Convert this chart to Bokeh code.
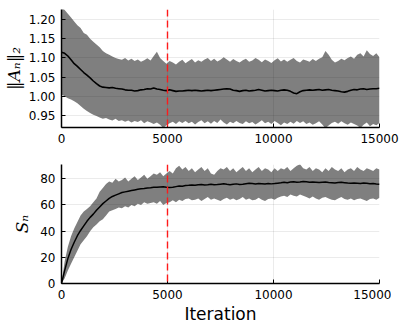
from bokeh.plotting import figure
from bokeh.layouts import column
from bokeh.models import FixedTicker, NumeralTickFormatter, Span, Range1d
from bokeh.embed import file_html
from bokeh.resources import INLINE

iterations = list(range(0, 15001, 150))

norm_mean = [
    1.115, 1.112, 1.105, 1.095, 1.085, 1.078, 1.070, 1.062, 1.055, 1.048,
    1.040, 1.033, 1.027, 1.024, 1.023, 1.022, 1.023, 1.021, 1.020, 1.019,
    1.017, 1.016, 1.016, 1.014, 1.015, 1.017, 1.018, 1.020, 1.019, 1.022,
    1.019, 1.018, 1.016, 1.015, 1.017, 1.015, 1.013, 1.014, 1.014, 1.015,
    1.016, 1.015, 1.016, 1.015, 1.014, 1.015, 1.016, 1.015, 1.016, 1.017,
    1.018, 1.019, 1.020, 1.019, 1.016, 1.015, 1.013, 1.015, 1.016, 1.014,
    1.015, 1.016, 1.018, 1.016, 1.014, 1.015, 1.016, 1.015, 1.014, 1.016,
    1.017, 1.016, 1.013, 1.009, 1.007, 1.012, 1.015, 1.016, 1.017, 1.016,
    1.017, 1.018, 1.016, 1.017, 1.018, 1.016, 1.015, 1.014, 1.012, 1.011,
    1.013, 1.016, 1.018, 1.017, 1.019, 1.020, 1.018, 1.019, 1.020, 1.020,
    1.021,
]
norm_upper = [
    1.235, 1.225, 1.215, 1.205, 1.195, 1.185, 1.178, 1.165, 1.160, 1.150,
    1.142, 1.135, 1.128, 1.118, 1.112, 1.108, 1.104, 1.100, 1.097, 1.095,
    1.100, 1.093, 1.098, 1.092, 1.096, 1.090, 1.094, 1.099, 1.093, 1.105,
    1.116, 1.100, 1.092, 1.085, 1.092, 1.088, 1.083, 1.090, 1.095, 1.086,
    1.092, 1.097, 1.088, 1.094, 1.090, 1.096, 1.100, 1.092, 1.098, 1.091,
    1.095, 1.102, 1.096, 1.090, 1.097, 1.092, 1.088, 1.094, 1.098, 1.090,
    1.093, 1.100, 1.095, 1.089, 1.096, 1.092, 1.087, 1.094, 1.099, 1.091,
    1.096, 1.090, 1.095, 1.100, 1.092, 1.088, 1.096, 1.093, 1.090, 1.097,
    1.092, 1.098, 1.102, 1.118, 1.108, 1.095, 1.088, 1.092, 1.098, 1.094,
    1.100, 1.104, 1.098, 1.108, 1.112, 1.104, 1.120, 1.110, 1.105, 1.112,
    1.102,
]
norm_lower = [
    1.005, 1.000, 0.995, 0.992, 0.987, 0.982, 0.975, 0.968, 0.962, 0.957,
    0.952, 0.949, 0.945, 0.942, 0.944, 0.940, 0.937, 0.942, 0.936, 0.938,
    0.934, 0.937, 0.932, 0.936, 0.933, 0.938, 0.930, 0.935, 0.932, 0.928,
    0.932, 0.926, 0.918, 0.925, 0.930, 0.934, 0.928, 0.935, 0.931, 0.936,
    0.930, 0.934, 0.927, 0.933, 0.938, 0.930, 0.935, 0.929, 0.936, 0.931,
    0.940, 0.932, 0.927, 0.934, 0.930, 0.936, 0.931, 0.928, 0.935, 0.930,
    0.933, 0.927, 0.932, 0.938, 0.930, 0.934, 0.928, 0.936, 0.931, 0.925,
    0.932, 0.928, 0.934, 0.929, 0.936, 0.931, 0.935, 0.928, 0.932, 0.926,
    0.930, 0.935, 0.927, 0.917, 0.924, 0.931, 0.934, 0.929, 0.935, 0.930,
    0.926, 0.932, 0.928, 0.924, 0.918, 0.926, 0.932, 0.922, 0.928, 0.925,
    0.931,
]

s_mean = [
    0, 10, 19, 26, 31.5, 36.5, 40.5, 44, 47.5, 50.5,
    53, 56, 58.5, 61, 63, 65, 66.5, 67.5, 68.5, 69.5,
    70, 70.5, 71, 71.5, 72, 72.3, 72.6, 73, 73.2, 73.5,
    73.6, 73.8, 73.9, 73.6, 73.4, 73.5, 74, 74.5, 74.3, 74.8,
    75, 75.3, 75, 75.4, 75.6, 75.3, 75.5, 75.8, 75.4, 75.6,
    75.9, 76.2, 75.8, 75.5, 75.9, 76.1, 75.7, 75.9, 76.2, 76.5,
    76.3, 76.0, 76.4, 76.2, 76.0, 76.3, 76.1, 76.3, 76.6, 76.9,
    77.3, 77.0, 77.5, 77.8, 77.4, 77.6, 78.0, 77.7, 77.3, 77.6,
    77.4, 77.1, 77.3, 77.5, 77.2, 77.0, 76.8, 77.1, 77.3, 77.0,
    76.7, 76.5, 76.8, 76.6, 76.4, 76.7, 76.5, 76.2, 76.4, 76.0,
    75.8,
]
s_upper = [
    0, 17, 28, 36, 42, 47, 52, 55, 57, 59,
    62, 65, 70, 73, 76, 78, 77, 80, 78, 79,
    81, 78, 80, 82, 79, 81, 83, 80, 82, 84,
    83, 85, 82, 84, 86, 84, 88, 90, 87, 89,
    86, 88, 85, 87, 89, 86, 88, 84, 83, 86,
    88, 87, 89, 86, 88, 85, 87, 89, 86, 88,
    85, 87, 89, 86, 88, 87, 85, 88, 86, 88,
    87, 89, 86, 88, 90, 91, 88, 87, 89, 86,
    88, 87, 85, 88, 86, 89, 87, 86, 88, 85,
    87, 88, 86, 89, 87, 86, 88, 87, 86, 88,
    87,
]
s_lower = [
    0, 4, 10, 15, 20, 25, 30, 33, 36, 40,
    43, 45, 47.5, 49, 52, 55, 56, 57, 58, 57.5,
    59, 58, 60, 59, 61, 60, 62, 61, 61.5, 62,
    61, 63, 60, 61.5, 62, 63.5, 62, 64, 63, 64.5,
    65, 63.5, 64, 65, 63, 64.5, 66, 64, 65, 64,
    63, 64.5, 65.5, 64, 65, 63.5, 64.5, 66, 64, 65,
    63.5, 64, 65.5, 64, 63, 64.5, 65, 64, 65.5, 66.5,
    67, 66, 68, 67, 66.5, 68, 67, 66, 65, 66.5,
    65, 64, 65.5, 66, 65, 64, 63.5, 65, 66, 64.5,
    64, 65, 63.5, 64.5, 65, 64, 63, 64.5, 65, 64,
    65.5,
]

x_ticks = [0, 5000, 10000, 15000]
norm_ticks = [0.95, 1.00, 1.05, 1.10, 1.15, 1.20]
s_ticks = [0, 20, 40, 60, 80]
burn_in = 5000


def style(p, yticks, ylabel):
    p.outline_line_color = None
    p.xaxis.ticker = FixedTicker(ticks=x_ticks)
    p.yaxis.ticker = FixedTicker(ticks=yticks)
    for ax in (p.xaxis[0], p.yaxis[0]):
        ax.axis_line_color = "black"
        ax.axis_line_width = 1.5
        ax.major_tick_in = 4
        ax.major_tick_out = 0
        ax.major_tick_line_color = "black"
        ax.minor_tick_line_color = None
        ax.major_label_text_font = "DejaVu Sans"
        ax.major_label_text_font_size = "12px"
        ax.major_label_text_color = "black"
        ax.major_label_standoff = 6
    for g in (p.xgrid[0], p.ygrid[0]):
        g.grid_line_color = "black"
        g.grid_line_alpha = 0.1
        g.grid_line_width = 0.8
    p.yaxis.axis_label = ylabel
    p.yaxis.axis_label_text_font = "DejaVu Serif"
    p.yaxis.axis_label_text_font_style = "italic"
    p.yaxis.axis_label_text_font_size = "17px"
    p.yaxis.axis_label_text_color = "black"


p1 = figure(frame_width=318, frame_height=118, output_backend="svg", toolbar_location=None,
            x_range=Range1d(0, 15000), y_range=Range1d(0.919, 1.226),
            min_border_left=53, min_border_right=20, min_border_top=9,
            min_border_bottom=27)
style(p1, norm_ticks, "\u2016A\u2099\u2016\u2082")
p1.yaxis.formatter = NumeralTickFormatter(format="0.00")
p1.yaxis.axis_label_standoff = 2
p1.varea(x=iterations, y1=norm_lower, y2=norm_upper, fill_color="black", fill_alpha=0.5)
p1.line(iterations, norm_mean, line_color="black", line_width=1.6)
p1.add_layout(Span(location=burn_in, dimension="height", line_color="#ff1a1a",
                   line_width=1.4, line_dash="7 4"))

p2 = figure(frame_width=318, frame_height=119, output_backend="svg", toolbar_location=None,
            x_range=Range1d(0, 15000), y_range=Range1d(0, 90.9),
            min_border_left=53, min_border_right=20, min_border_top=10,
            min_border_bottom=37)
style(p2, s_ticks, "S\u2099")
p2.yaxis.axis_label_standoff = 5
p2.xaxis.axis_label = "Iteration"
p2.xaxis.axis_label_text_font = "DejaVu Sans"
p2.xaxis.axis_label_text_font_style = "normal"
p2.xaxis.axis_label_text_font_size = "17px"
p2.xaxis.axis_label_text_color = "black"
p2.xaxis.axis_label_standoff = 2
p2.varea(x=iterations, y1=s_lower, y2=s_upper, fill_color="black", fill_alpha=0.5)
p2.line(iterations, s_mean, line_color="black", line_width=1.5)
p2.add_layout(Span(location=burn_in, dimension="height", line_color="#ff1a1a",
                   line_width=1.4, line_dash="7 4"))

layout = column(p1, p2, spacing=0)
open("out.html", "w").write(file_html(layout, INLINE))
